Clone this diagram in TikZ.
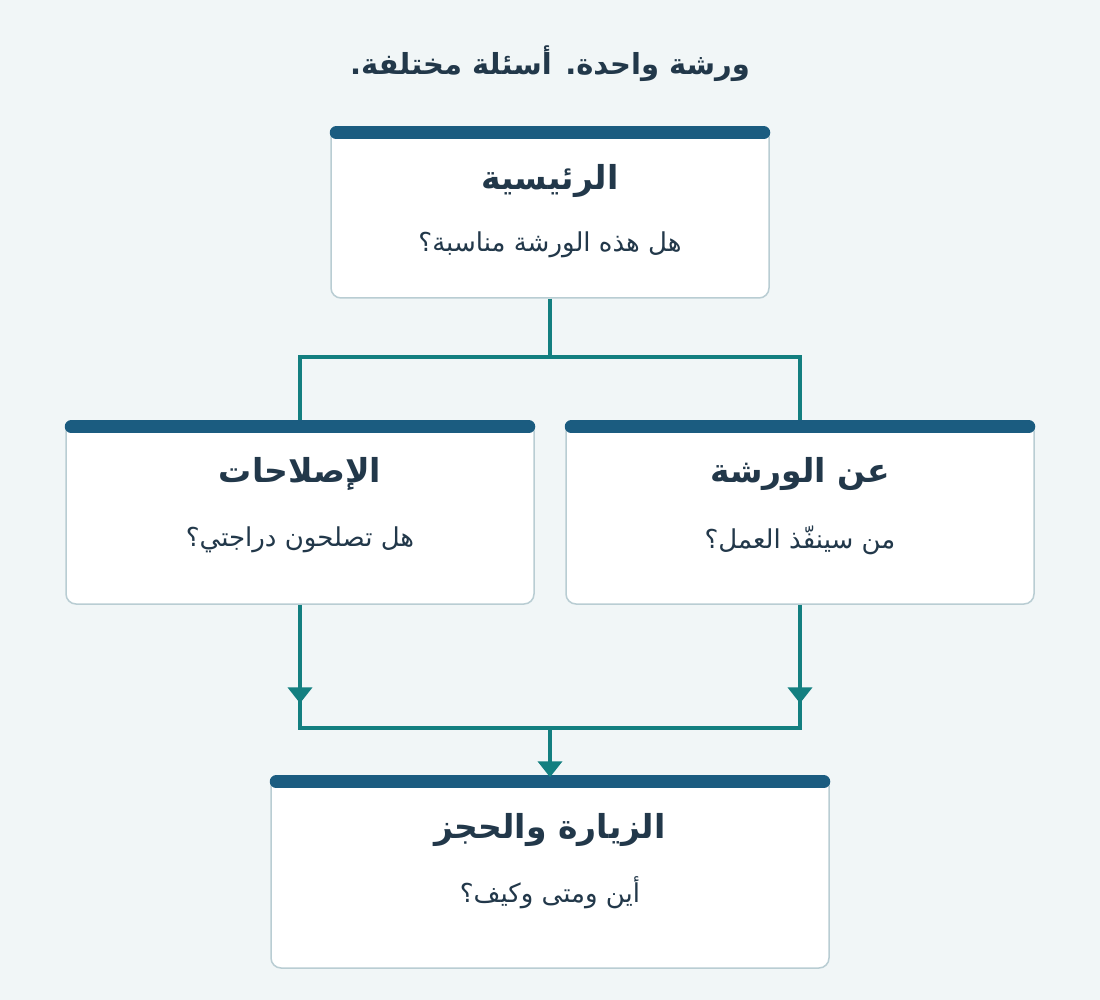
\documentclass[tikz,border=0pt]{standalone}
\usepackage{fontspec}
\newfontfamily\arabicfont[Script=Arabic]{DejaVu Sans}
\usetikzlibrary{arrows.meta,decorations.markings}
\TeXXeTstate=1
\newcommand{\artx}[1]{{\arabicfont\beginR #1\endR}}
\definecolor{bg}{HTML}{F1F6F7}
\definecolor{bar}{HTML}{1B5C80}
\definecolor{edge}{HTML}{B9CDD3}
\definecolor{teal}{HTML}{137F80}
\definecolor{ink}{HTML}{22384A}
\begin{document}
\begin{tikzpicture}[x=1pt,y=-1pt,
  box/.style={draw=edge,line width=1.5pt,fill=white,rounded corners=10pt,inner sep=0},
  topbar/.style={draw=bar,line width=13pt,line cap=round},
  head/.style={text=ink,font=\bfseries\fontsize{33}{38}\selectfont},
  sub/.style={text=ink,font=\fontsize{26}{30}\selectfont},
  conn/.style={draw=teal,line width=4pt},
  mid/.style={postaction={decorate},decoration={markings,mark=at position #1 with {\arrow[teal]{Triangle[length=16pt,width=24pt]}}}}]
\fill[bg] (0,0) rectangle (1100,1000);
\useasboundingbox (0,0) rectangle (1100,1000);
\node[text=ink,font=\bfseries\fontsize{29}{34}\selectfont] (title) at (550,64) {\artx{ورشة واحدة. أسئلة مختلفة.}};
% boxes
\node[box,minimum width=438pt,minimum height=171pt] (top) at (550,212.5) {};
\node[box,minimum width=468pt,minimum height=183pt] (left) at (300,512.5) {};
\node[box,minimum width=468pt,minimum height=183pt] (right) at (800,512.5) {};
\node[box,minimum width=558pt,minimum height=192pt] (bot) at (550,872) {};
\foreach \n in {top,left,right,bot}{\draw[topbar] ([xshift=6pt,yshift=-6.5pt]\n.north west) -- ([xshift=-6pt,yshift=-6.5pt]\n.north east);}
% texts
\node[head] (t1) at (550,181) {\artx{الرئيسية}};
\node[sub] (t2) at (550,245) {\artx{هل هذه الورشة مناسبة؟}};
\node[head] (l1) at (300,474) {\artx{الإصلاحات}};
\node[sub] (l2) at (300,540) {\artx{هل تصلحون دراجتي؟}};
\node[head] (r1) at (800,474) {\artx{عن الورشة}};
\node[sub] (r2) at (800,540) {\artx{من سينفّذ العمل؟}};
\node[head] (b1) at (550,830) {\artx{الزيارة والحجز}};
\node[sub] (b2) at (550,893) {\artx{أين ومتى وكيف؟}};
% connectors
\coordinate (split) at (550,357);
\coordinate (join) at (550,728);
\draw[conn] (top.south) -- (split);
\draw[conn] (split) -| (left.north);
\draw[conn] (split) -| (right.north);
\draw[conn,mid=0.8] (left.south) -- (left.south |- join);
\draw[conn,mid=0.8] (right.south) -- (right.south |- join);
\draw[conn] ([xshift=-2pt]left.south |- join) -- ([xshift=2pt]right.south |- join);
\draw[conn,-{Triangle[length=16pt,width=24pt]}] (join) -- ([yshift=-2pt]bot.north);
\end{tikzpicture}
\end{document}
